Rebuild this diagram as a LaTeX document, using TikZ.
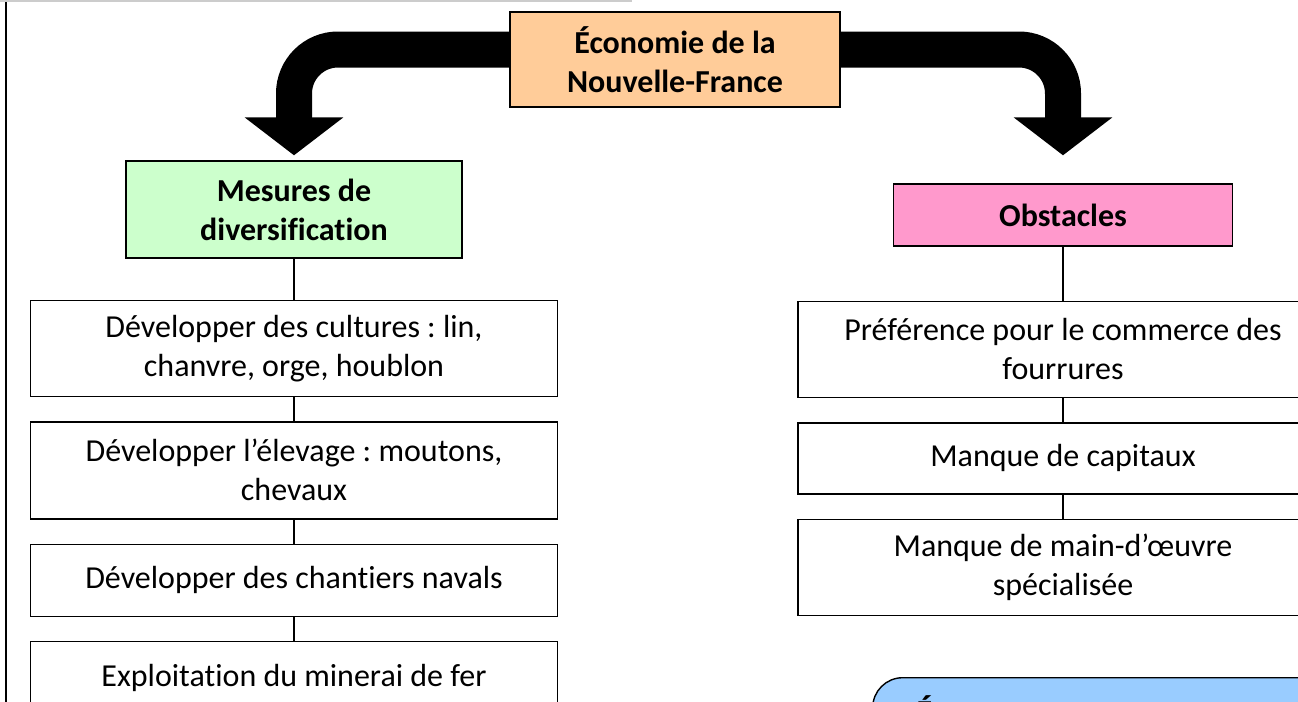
\documentclass[tikz,border=0pt]{standalone}
\usepackage{fontspec}
\setmainfont[Ligatures=NoCommon]{Carlito}
\usepackage{tikz}
\usetikzlibrary{positioning,arrows.meta}
\definecolor{ecopeach}{RGB}{255,204,153}
\definecolor{ecogreen}{RGB}{204,255,204}
\definecolor{ecopink}{RGB}{255,153,204}
\definecolor{ecoblue}{RGB}{153,204,255}
\frenchspacing
\tikzstyle{bigarrow} = [line width=18pt, rounded corners=22pt, -{Triangle[width=48.5pt,length=19pt]}]
\tikzstyle{headbox} = [rectangle, draw, line width=0.7pt, align=center, font=\fontsize{16}{19.5}\selectfont\bfseries]
\tikzstyle{itembox} = [rectangle, draw, line width=0.7pt, fill=white, align=center, font=\fontsize{16}{19.5}\selectfont]

\begin{document}
\begin{tikzpicture}[x=0.5pt, y=-0.5pt, node distance=12pt]
\useasboundingbox (0,0) rectangle (1298,702);
% page edges
\draw[line width=1.2pt] (6,0) -- (6,702);
\draw[black!20, line width=0.6pt] (0,1) -- (632,1);

% Top node
\node (econ) [headbox, fill=ecopeach, minimum width=165pt, minimum height=47.5pt] at (675,59.5) {Économie de la\\Nouvelle-France};

% Mesures de diversification
\node (mesures) [headbox, fill=ecogreen, minimum width=168pt, minimum height=48.5pt] at (294,209.5) {Mesures de\\diversification};
\node (cult) [itembox, below=20.5pt of mesures, minimum width=263.5pt, minimum height=48pt] {Développer des cultures : lin,\\chanvre, orge, houblon};
\node (elev) [itembox, below=of cult, minimum width=263.5pt, minimum height=48.5pt] {Développer l’élevage : moutons,\\chevaux};
\node (chant) [itembox, below=of elev, minimum width=263.5pt, minimum height=36pt] {Développer des chantiers navals};
\node (minerai) [itembox, below=of chant, minimum width=263.5pt, minimum height=36pt] {Exploitation du minerai de fer};

% Obstacles
\node (obst) [headbox, fill=ecopink, minimum width=169.5pt, minimum height=31pt] at (1063,215) {Obstacles};
\node (pref) [itembox, below=27pt of obst, minimum width=265pt, minimum height=48pt] {Préférence pour le commerce des\\fourrures};
\node (capit) [itembox, below=of pref, minimum width=265pt, minimum height=35.5pt] {Manque de capitaux};
\node (main) [itembox, below=of capit, minimum width=265pt, minimum height=48pt] {Manque de main-d’œuvre\\spécialisée};

% Note
\node (note) [anchor=north west, rectangle, rounded corners=15pt, draw, line width=0.7pt, fill=ecoblue, text width=220pt, align=left, inner xsep=22pt, inner ysep=9pt, font=\fontsize{16}{19.5}\selectfont\bfseries] at (872,677) {É};

% Arrows
\draw[bigarrow] ([yshift=5pt]econ.west) -| ([yshift=2.5pt]mesures.north);
\draw[bigarrow] ([yshift=5pt]econ.east) -| ([yshift=14pt]obst.north);

% Links
\foreach \a/\b in {mesures/cult, cult/elev, elev/chant, chant/minerai, obst/pref, pref/capit, capit/main}
  \draw[line width=0.6pt] (\a) -- (\b);

\end{tikzpicture}
\end{document}
